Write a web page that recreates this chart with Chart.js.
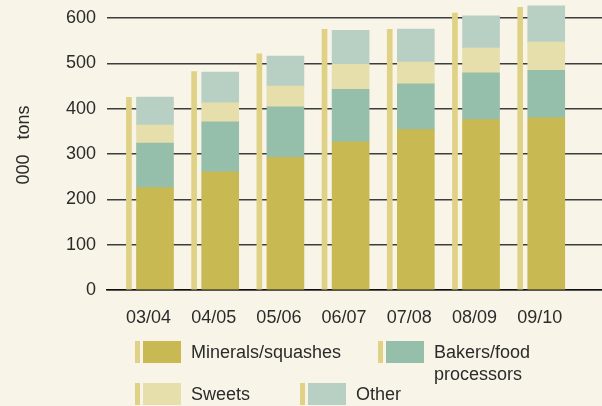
<!DOCTYPE html>
<html lang="en">
<head>
<meta charset="UTF-8">
<title>Soft drinks usage by sector</title>
<script src="https://cdn.jsdelivr.net/npm/chart.js"></script>
<style>
    html, body {
        margin: 0;
        padding: 0;
        background: #f8f4e7;
    }
    body {
        width: 602px;
        height: 406px;
        overflow: hidden;
        font-family: 'Liberation Sans', Arial, sans-serif;
        color: #2b2b2b;
    }
    .wrap {
        position: relative;
        width: 602px;
        height: 406px;
    }
    .legend-item {
        position: absolute;
        display: flex;
        align-items: flex-start;
        font-size: 18px;
        line-height: 22px;
    }
    .legend-item .thin {
        width: 5px;
        height: 22px;
        margin-right: 3px;
    }
    .legend-item .box {
        width: 38px;
        height: 22px;
        margin-right: 10px;
    }
</style>
</head>
<body>
<div class="wrap">
    <canvas id="chart"></canvas>
    <div id="legend"></div>
</div>

<script>
    const categories = ['03/04', '04/05', '05/06', '06/07', '07/08', '08/09', '09/10'];
    const minerals = [226, 261, 293, 327, 354, 376, 380];
    const bakers   = [98, 110, 111, 116, 101, 103, 105];
    const sweets   = [40, 42, 46, 55, 48, 55, 62];
    const other    = [62, 68, 66, 75, 73, 71, 80];
    const totals   = [425, 482, 521, 575, 575, 611, 624];
    const yTicks   = [0, 100, 200, 300, 400, 500, 600];

    const thinColor = '#dfd287';

    // main bar sits a little right of the category centre, the thin total bar to its left
    const mainShift = 0.1;
    const thinShift = -0.3;

    const toPoints = (values, shift) => values.map((v, i) => ({ x: i + shift, y: v }));

    const series = [
        { label: 'Minerals/squashes', values: minerals, color: '#c8b952' },
        { label: 'Bakers/food<br>processors', values: bakers, color: '#95bfab' },
        { label: 'Sweets', values: sweets, color: '#e6dfab' },
        { label: 'Other', values: other, color: '#b8d0c4' }
    ];

    const datasets = series.map(s => ({
        label: s.label.replace('<br>', ' '),
        data: toPoints(s.values, mainShift),
        backgroundColor: s.color,
        stack: 'main',
        grouped: false,
        barThickness: 37,
        borderWidth: 0
    }));

    datasets.push({
        label: 'Total',
        data: toPoints(totals, thinShift),
        backgroundColor: thinColor,
        stack: 'total',
        grouped: false,
        barThickness: 5,
        borderWidth: 0
    });

    const font = { family: "'Liberation Sans', Arial, sans-serif", size: 18 };

    new Chart(document.getElementById('chart'), {
        type: 'bar',
        data: { datasets },
        options: {
            responsive: true,
            maintainAspectRatio: false,
            animation: false,
            layout: { padding: 0 },
            plugins: {
                legend: { display: false },
                tooltip: { enabled: false }
            },
            scales: {
                x: {
                    type: 'linear',
                    offset: false,
                    min: -0.636,
                    max: 6.955,
                    grid: { display: false, drawTicks: false },
                    border: { display: true, color: '#111', width: 1.5 },
                    afterBuildTicks: scale => {
                        scale.ticks = categories.map((c, i) => ({ value: i }));
                    },
                    afterFit: scale => {
                        scale.height = 116;
                        scale.paddingLeft = 0;
                        scale.paddingRight = 0;
                    },
                    ticks: {
                        padding: 17,
                        autoSkip: false,
                        maxRotation: 0,
                        color: '#2b2b2b',
                        font,
                        callback: v => categories[v]
                    }
                },
                y: {
                    stacked: true,
                    min: 0,
                    max: 640,
                    afterBuildTicks: scale => {
                        scale.ticks = yTicks.map(v => ({ value: v }));
                    },
                    afterFit: scale => {
                        scale.width = 107;
                        scale.paddingTop = 0;
                        scale.paddingBottom = 0;
                    },
                    grid: { color: '#3c3c3c', lineWidth: 1.5, drawTicks: false },
                    border: { display: false },
                    ticks: { padding: 11, color: '#2b2b2b', font },
                    title: {
                        display: true,
                        text: '000   tons',
                        color: '#2b2b2b',
                        font,
                        padding: { top: 13, bottom: 0 }
                    }
                }
            }
        }
    });

    // legend laid out in two rows like the printed key
    const legendSpots = [
        { left: 135, top: 341 },
        { left: 378, top: 341 },
        { left: 135, top: 383 },
        { left: 300, top: 383 }
    ];
    const legend = document.getElementById('legend');
    series.forEach((s, i) => {
        const item = document.createElement('div');
        item.className = 'legend-item';
        item.style.left = legendSpots[i].left + 'px';
        item.style.top = legendSpots[i].top + 'px';
        item.innerHTML =
            `<div class="thin" style="background:${thinColor}"></div>` +
            `<div class="box" style="background:${s.color}"></div>` +
            `<div class="text">${s.label}</div>`;
        legend.appendChild(item);
    });
</script>
</body>
</html>
